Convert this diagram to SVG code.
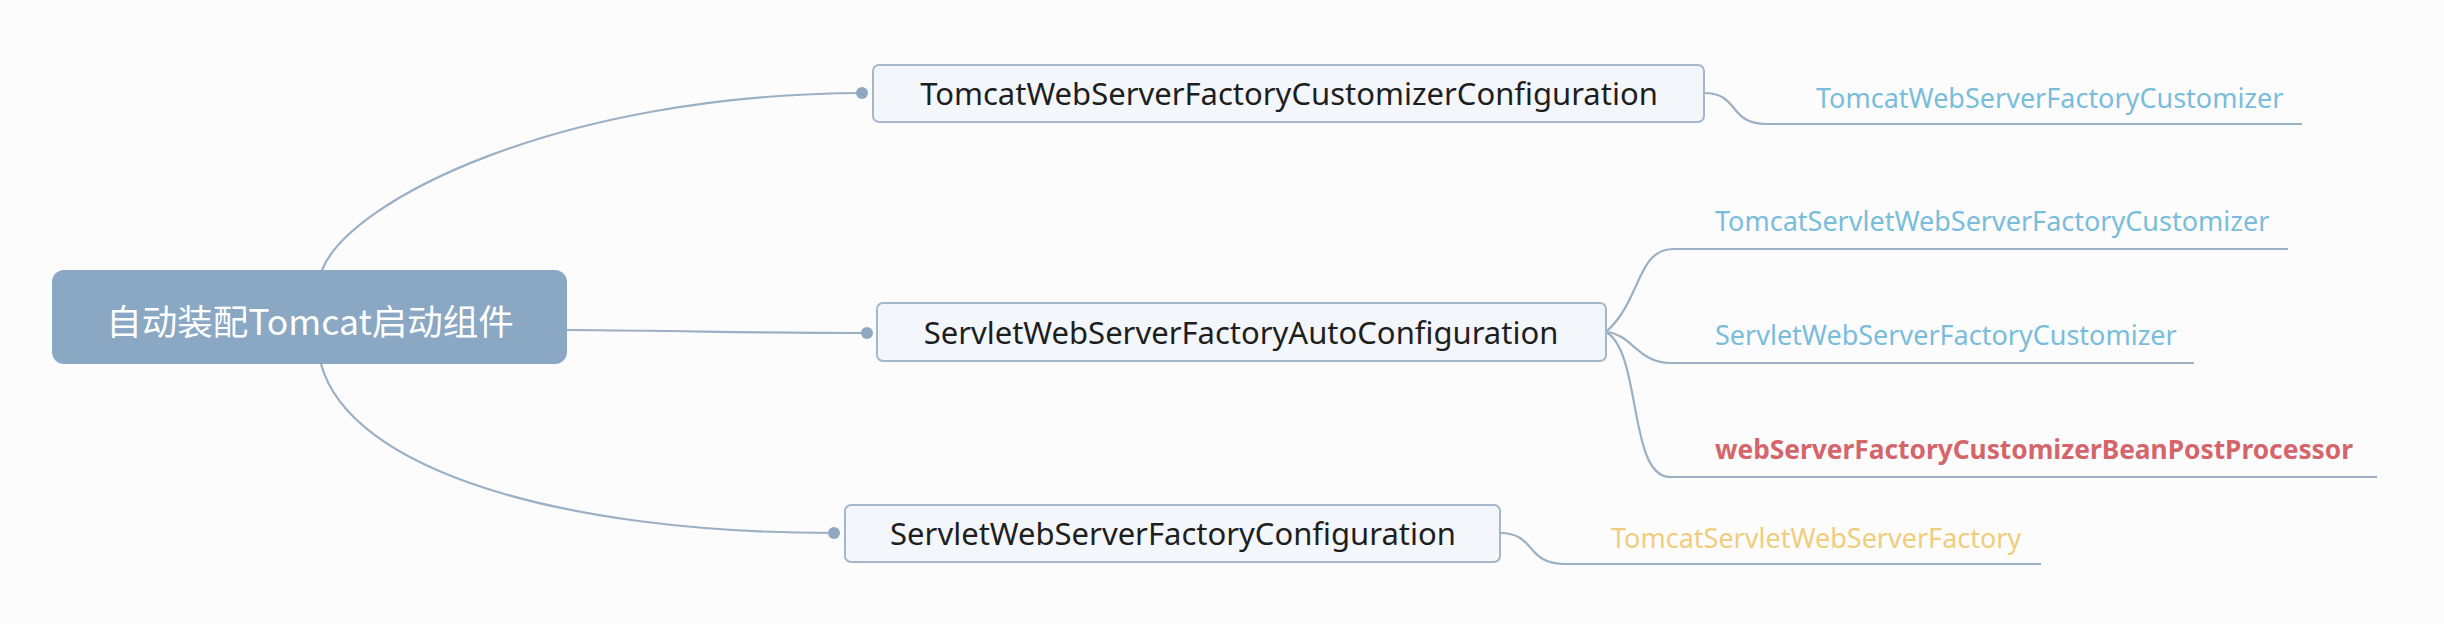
<svg xmlns="http://www.w3.org/2000/svg" width="2444" height="624" viewBox="0 0 2444 624">
<style>
.bg{fill:#fcfcfd}
.conn{fill:none;stroke:#9cb0c4;stroke-width:2.2}
.dot{fill:#8ea8c2}
.box{fill:#f3f6fa;stroke:#a5b8ca;stroke-width:2}
.boxt{font-family:"Noto Sans","Open Sans","Liberation Sans",sans-serif;font-size:31px;fill:#1e1e1e;text-anchor:middle;dominant-baseline:central}
.leaf{font-family:"Noto Sans","Open Sans","Liberation Sans",sans-serif;font-size:27px;dominant-baseline:central}
.blue{fill:#79bcdb}
.red{fill:#d4666b;font-weight:bold}
.gold{fill:#f0cd7c}
</style>
<rect class="bg" x="0" y="0" width="2444" height="624"/>
<g id="connectors">
<path class="conn" d="M322,270 C350,200 560,94 862,93"/>
<path class="conn" d="M567,330 C700,331 750,333 867,333"/>
<path class="conn" d="M321,364 C350,470 560,533 834,533"/>
<circle class="dot" cx="862" cy="93" r="6"/>
<circle class="dot" cx="867" cy="333" r="6"/>
<circle class="dot" cx="834" cy="533" r="6"/>
<path class="conn" d="M1704,93 C1740,93 1728,124 1766,124 L2302,124"/>
<path class="conn" d="M1606,332 C1642,300 1636,249 1674,249 L2288,249"/>
<path class="conn" d="M1606,332 C1632,334 1638,363 1670,363 L2194,363"/>
<path class="conn" d="M1606,332 C1642,352 1628,477 1670,477 L2377,477"/>
<path class="conn" d="M1500,533 C1536,533 1526,564 1564,564 L2041,564"/>
</g>
<g id="root">
<rect x="52" y="270" width="515" height="94" rx="12" fill="#8aa8c3"/>
<text x="310" y="319" font-family="'Noto Sans CJK SC','Noto Sans',sans-serif" font-size="35.5" fill="#ffffff" text-anchor="middle" dominant-baseline="central">自动装配Tomcat启动组件</text>
</g>
<g id="node-customizer-config">
<rect class="box" x="873" y="65" width="831" height="57" rx="6"/>
<text class="boxt" x="1289" y="93">TomcatWebServerFactoryCustomizerConfiguration</text>
</g>
<g id="node-auto-config">
<rect class="box" x="877" y="303" width="729" height="58" rx="6"/>
<text class="boxt" x="1241" y="332">ServletWebServerFactoryAutoConfiguration</text>
</g>
<g id="node-factory-config">
<rect class="box" x="845" y="505" width="655" height="57" rx="6"/>
<text class="boxt" x="1173" y="533">ServletWebServerFactoryConfiguration</text>
</g>
<g id="leaf-tomcat-web-customizer">
<text class="leaf blue" x="1816" y="97">TomcatWebServerFactoryCustomizer</text>
</g>
<g id="leaf-tomcat-servlet-customizer">
<text class="leaf blue" x="1715" y="220">TomcatServletWebServerFactoryCustomizer</text>
</g>
<g id="leaf-servlet-customizer">
<text class="leaf blue" x="1715" y="334">ServletWebServerFactoryCustomizer</text>
</g>
<g id="leaf-bean-post-processor">
<text class="leaf red" x="1715" y="448" textLength="638" lengthAdjust="spacingAndGlyphs">webServerFactoryCustomizerBeanPostProcessor</text>
</g>
<g id="leaf-tomcat-servlet-factory">
<text class="leaf gold" x="1611" y="537">TomcatServletWebServerFactory</text>
</g>
</svg>
